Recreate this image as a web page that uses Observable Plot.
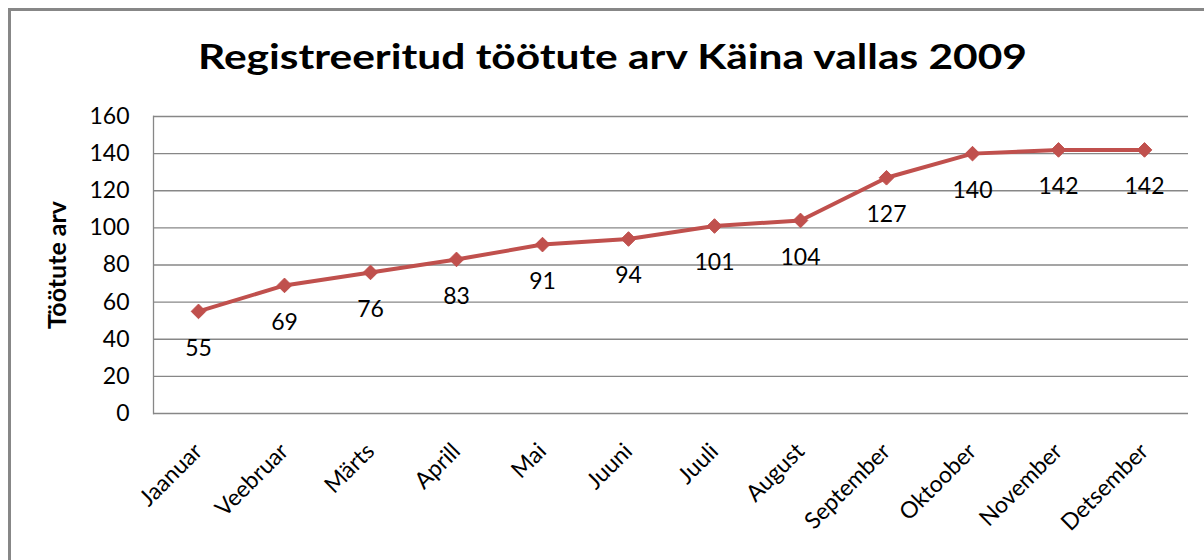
<!DOCTYPE html>
<html><head><meta charset="utf-8">
<script src="https://cdn.jsdelivr.net/npm/d3@7"></script>
<script src="https://cdn.jsdelivr.net/npm/@observablehq/plot@0.6"></script>
<style>
html,body{margin:0;overflow:hidden;background:#fff}
body{width:1204px;height:560px;position:relative;font-family:Lato,sans-serif}
#frame{position:absolute;left:8px;top:8px;width:1196px;height:552px;border-left:3px solid #878787;border-top:3px solid #878787;box-sizing:border-box}
#title{position:absolute;left:198px;top:38px;font:bold 35px/35px Lato,sans-serif;white-space:nowrap;transform-origin:0 0;color:#000}
#chart{position:absolute;left:0;top:90px}
#cover{position:absolute;left:1192px;top:11px;width:12px;height:549px;background:#fff;z-index:5}
</style></head><body>
<div id="frame"></div>
<div id="title">Registreeritud töötute arv Käina vallas 2009</div>
<div id="chart"></div>
<div id="cover"></div>
<script>
const months = ["Jaanuar","Veebruar","Märts","Aprill","Mai","Juuni","Juuli","August","September","Oktoober","November","Detsember"];
const values = [55, 69, 76, 83, 91, 94, 101, 104, 127, 140, 142, 142];
const yTicks = [0, 20, 40, 60, 80, 100, 120, 140, 160];
const yTitle = "Töötute arv";

const data = months.map((m, i) => ({month: m, value: values[i]}));
const red = "#C0504D";

const plot = Plot.plot({
  width: 1204, height: 470,
  marginTop: 26, marginBottom: 147, marginLeft: 153, marginRight: 16,
  style: {fontFamily: "Lato, sans-serif", fontSize: "22px", color: "#000", background: "transparent"},
  x: {type: "point", domain: months, padding: 0.5},
  y: {domain: [0, 160]},
  marks: [
    Plot.gridY(yTicks, {stroke: "#878787", strokeOpacity: 1, strokeWidth: 1.3}),
    Plot.frame({anchor: "left", stroke: "#878787", strokeWidth: 1.3}),
    Plot.axisY(yTicks, {tickSize: 0, tickPadding: 24, fontSize: 23, label: null}),
    Plot.axisX({tickSize: 0, tickRotate: -45, fontSize: 23, tickPadding: 34, label: null}),
    Plot.text([yTitle], {frameAnchor: "left", text: d => d, rotate: -90, dx: -96, textAnchor: "middle", fontWeight: "bold", fontSize: 25}),
    Plot.line(data, {x: "month", y: "value", stroke: red, strokeWidth: 4}),
    Plot.dot(data, {x: "month", y: "value", symbol: "diamond2", r: 6.6, fill: red, stroke: red, strokeWidth: 1}),
    Plot.text(data, {x: "month", y: "value", text: d => String(d.value), dy: 37, fontSize: 23, fill: "#000"})
  ]
});
document.getElementById("chart").appendChild(plot);

const t = document.getElementById("title");
const w = t.getBoundingClientRect().width;
t.style.transform = `scaleX(${829 / w})`;
</script>
</body></html>
